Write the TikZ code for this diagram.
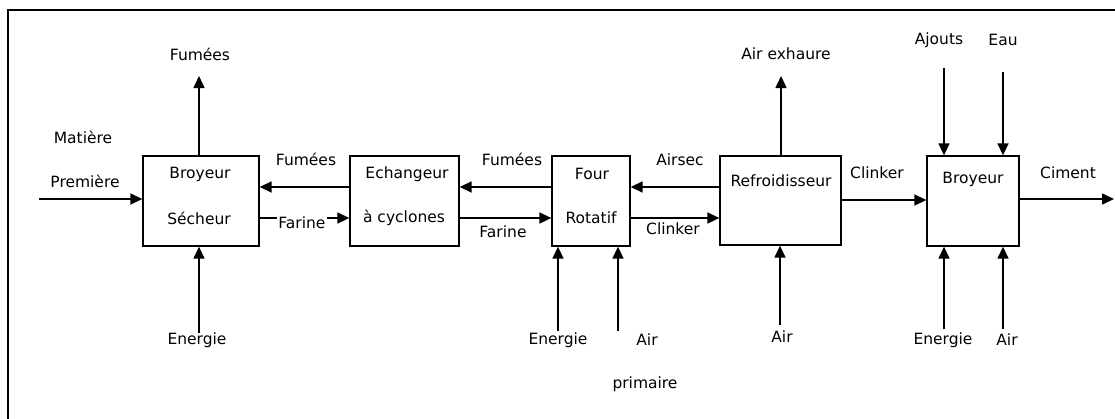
\documentclass[tikz,border=0pt]{standalone}
\usepackage{fontspec}
\setmainfont{DejaVu Sans}
\usetikzlibrary{arrows.meta}
\begin{document}
\begin{tikzpicture}[x=1pt,y=-1pt,
  blk/.style={draw,line width=1.3pt,inner sep=0pt},
  lbl/.style={inner sep=0pt,font=\fontsize{15.5}{17}\selectfont},
  arr/.style={line width=1.5pt,-{Triangle[length=12pt,width=11pt]}},
  frm/.style={line width=1.4pt}]
\useasboundingbox (0,0) rectangle (1115,418);
\draw[frm] (8,420) -- (8,10) -- (1117,10);
% boxes
\node[blk,minimum width=116pt,minimum height=90pt] (b1) at (201,201) {};
\node[blk,minimum width=109pt,minimum height=90pt] (b2) at (404.5,201) {};
\node[blk,minimum width=78pt,minimum height=90pt] (b3) at (591,201) {};
\node[blk,minimum width=121pt,minimum height=89pt] (b4) at (780.5,200.5) {};
\node[blk,minimum width=92pt,minimum height=90pt] (b5) at (973,201) {};
% box texts
\node[lbl] (t1a) at (200,174) {Broyeur};
\node[lbl] (t1b) at (199,218) {Sécheur};
\node[lbl] (t2a) at (407,174) {Echangeur};
\node[lbl] (t2b) at (404,218) {à cyclones};
\node[lbl] (t3a) at (592,174) {Four};
\node[lbl] (t3b) at (591,218) {Rotatif};
\node[lbl] (t4) at (781,181) {Refroidisseur};
\node[lbl] (t5) at (973,179) {Broyeur};
% labels
\node[lbl] (lfum1) at (200,54) {Fumées};
\node[lbl] (lmat) at (83,137) {Matière};
\node[lbl] (lpre) at (85,181) {Première};
\node[lbl] (len1) at (197,340) {Energie};
\node[lbl] (lfum2) at (306,159) {Fumées};
\node[lbl] (len2) at (558,340) {Energie};
\node[lbl] (lair1) at (647,340) {Air};
\node[lbl] (lprim) at (645,384) {primaire};
\node[lbl] (lairsec) at (680,160) {Airsec};
\node[lbl] (lclk1) at (673,229) {Clinker};
\node[lbl] (lexh) at (786,54) {Air exhaure};
\node[lbl] (lair2) at (782,337) {Air};
\node[lbl] (lclk2) at (877,173) {Clinker};
\node[lbl] (lajo) at (939,40) {Ajouts};
\node[lbl] (leau) at (1003,40) {Eau};
\node[lbl] (lcim) at (1068,173) {Ciment};
\node[lbl] (len3) at (943,340) {Energie};
\node[lbl] (lair3) at (1007,340) {Air};
\node[lbl] (lfum3) at (512,159) {Fumées};
\node[lbl] (lfar2) at (503,232) {Farine};
% free ends
\coordinate (fumtop) at (199,76);
\coordinate (matin) at (39,199);
\coordinate (en1) at (199,333);
\coordinate (en2) at (558,331);
\coordinate (air1) at (618,331);
\coordinate (exh) at (781,76);
\coordinate (air2) at (780,325);
\coordinate (ajo) at (944,68);
\coordinate (eau) at (1003,72);
\coordinate (cim) at (1114,199);
\coordinate (en3) at (944,329);
\coordinate (air3) at (1003,329);
% connectors
\draw[arr] (b1.north -| fumtop) -- (fumtop);
\draw[arr] (matin) -- (b1.west |- matin);
\draw[arr] (en1) -- (b1.south -| en1);
\draw[arr] (b2.west |- 0,187) -- (b1.east |- 0,187);
\draw[arr] (b1.east |- 0,218) -- (b2.west |- 0,218);
\draw[arr] (b3.west |- 0,187) -- (b2.east |- 0,187);
\draw[arr] (b2.east |- 0,218) -- (b3.west |- 0,218);
\draw[arr] (b4.west |- 0,187) -- (b3.east |- 0,187);
\draw[arr] (b3.east |- 0,218) -- (b4.west |- 0,218);
\draw[arr] (en2) -- (b3.south -| en2);
\draw[arr] (air1) -- (b3.south -| air1);
\draw[arr] (b4.north -| exh) -- (exh);
\draw[arr] (air2) -- (b4.south -| air2);
\draw[arr] (b4.east |- 0,200) -- (b5.west |- 0,200);
\draw[arr] (ajo) -- (b5.north -| ajo);
\draw[arr] (eau) -- (b5.north -| eau);
\draw[arr] (b5.east |- cim) -- (cim);
\draw[arr] (en3) -- (b5.south -| en3);
\draw[arr] (air3) -- (b5.south -| air3);
\node[lbl,fill=white,inner sep=1pt] (lfar1) at (302,223) {Farine};
\end{tikzpicture}
\end{document}
